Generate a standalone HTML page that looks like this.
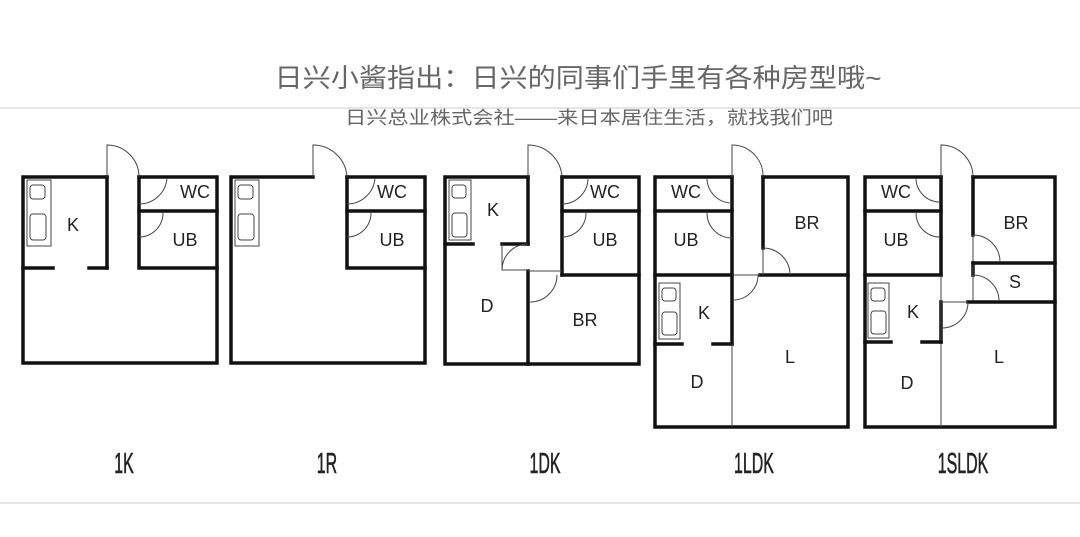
<!DOCTYPE html>
<html><head><meta charset="utf-8"><style>
html,body{margin:0;padding:0;background:#fff;}
svg{display:block}
.w{stroke:#111;stroke-width:3.5;fill:none;stroke-linecap:square}
.t{stroke:#444;stroke-width:1;fill:none}
.l{font-family:"Liberation Sans",Arial,sans-serif;font-size:18px;fill:#222;text-anchor:middle;dominant-baseline:central}
.b{font-family:"Liberation Sans",sans-serif;font-size:29px;fill:#222;text-anchor:middle;stroke:#222;stroke-width:0.6}
</style></head><body>
<svg width="1080" height="537" viewBox="0 0 1080 537" xmlns="http://www.w3.org/2000/svg">
<text x="578" y="87" font-family="'Liberation Sans','Noto Sans CJK SC',sans-serif" font-size="26" fill="#666" text-anchor="middle" textLength="607" lengthAdjust="spacingAndGlyphs">日兴小酱指出：日兴的同事们手里有各种房型哦~</text>
<line x1="0" y1="108" x2="1080" y2="108" stroke="#ddd" stroke-width="1.5"/>
<text x="589" y="124" font-family="'Liberation Sans','Noto Sans CJK SC',sans-serif" font-size="18" fill="#666" text-anchor="middle" textLength="488" lengthAdjust="spacingAndGlyphs">日兴总业株式会社——来日本居住生活，就找我们吧</text>
<line x1="0" y1="503" x2="1080" y2="503" stroke="#ddd" stroke-width="1.5"/>

<!-- 1K -->
<g>
<polyline class="w" points="107,177 23,177 23,363 217,363 217,177 139,177"/>
<line class="w" x1="107" y1="177" x2="107" y2="268"/>
<line class="w" x1="23" y1="268" x2="53" y2="268"/>
<line class="w" x1="89" y1="268" x2="107" y2="268"/>
<polyline class="w" points="139,177 139,268 217,268"/>
<line class="w" x1="139" y1="211" x2="217" y2="211"/>
<path class="t" d="M107,177 V145 A32,32 0 0 1 139,177"/>
<path class="t" d="M139,204 A28,28 0 0 0 167,178"/>
<path class="t" d="M139,237 A24,24 0 0 0 163,213"/>
<rect class="t" x="27" y="180" width="24" height="66"/>
<rect class="t" x="30" y="185" width="15" height="14" rx="3"/>
<rect class="t" x="30" y="214" width="16" height="26" rx="3"/>
<text class="l" x="73" y="225">K</text>
<text class="l" x="195" y="192">WC</text>
<text class="l" x="185" y="240">UB</text>
<text class="b" x="124" y="473" transform="translate(124 0) scale(0.55 1) translate(-124 0)">1K</text>
</g>

<!-- 1R -->
<g>
<polyline class="w" points="313,177 231,177 231,363 425,363 425,177 347,177"/>
<polyline class="w" points="347,177 347,268 425,268"/>
<line class="w" x1="347" y1="211" x2="425" y2="211"/>
<path class="t" d="M313,177 V145 A34,34 0 0 1 347,177"/>
<path class="t" d="M347,204 A28,28 0 0 0 375,178"/>
<path class="t" d="M347,237 A24,24 0 0 0 371,213"/>
<rect class="t" x="235" y="180" width="24" height="66"/>
<rect class="t" x="238" y="185" width="15" height="14" rx="3"/>
<rect class="t" x="238" y="214" width="16" height="26" rx="3"/>
<text class="l" x="392" y="192">WC</text>
<text class="l" x="392" y="240">UB</text>
<text class="b" x="327" y="473" transform="translate(327 0) scale(0.55 1) translate(-327 0)">1R</text>
</g>

<!-- 1DK -->
<g>
<polyline class="w" points="528,177 445,177 445,364 639,364 639,177 562,177"/>
<line class="w" x1="528" y1="177" x2="528" y2="244"/>
<line class="w" x1="528" y1="271" x2="528" y2="364"/>
<line class="w" x1="562" y1="177" x2="562" y2="275"/>
<line class="w" x1="562" y1="275" x2="639" y2="275"/>
<line class="w" x1="562" y1="211" x2="639" y2="211"/>
<line class="w" x1="445" y1="244" x2="473" y2="244"/>
<line class="w" x1="502" y1="244" x2="528" y2="244"/>
<line class="t" x1="528" y1="271" x2="562" y2="271"/>
<path class="t" d="M528,177 V145 A34,34 0 0 1 562,177"/>
<path class="t" d="M562,204 A26,26 0 0 0 588,178"/>
<path class="t" d="M562,237 A24,24 0 0 0 586,213"/>
<path class="t" d="M502,244 V270 H528 M502,270 A26,26 0 0 1 528,244"/>
<path class="t" d="M530,302 A27,27 0 0 0 557,275"/>
<rect class="t" x="449" y="180" width="22" height="60"/>
<rect class="t" x="452" y="185" width="14" height="13" rx="3"/>
<rect class="t" x="452" y="213" width="15" height="24" rx="3"/>
<text class="l" x="493" y="210">K</text>
<text class="l" x="605" y="192">WC</text>
<text class="l" x="605" y="240">UB</text>
<text class="l" x="487" y="306">D</text>
<text class="l" x="585" y="320">BR</text>
<text class="b" x="545" y="473" transform="translate(545 0) scale(0.55 1) translate(-545 0)">1DK</text>
</g>

<!-- 1LDK -->
<g>
<polyline class="w" points="732,177 655,177 655,427 848,427 848,177 763,177"/>
<line class="w" x1="655" y1="211" x2="732" y2="211"/>
<line class="w" x1="655" y1="275" x2="732" y2="275"/>
<line class="w" x1="732" y1="177" x2="732" y2="344"/>
<line class="w" x1="763" y1="177" x2="763" y2="248"/>
<line class="w" x1="760" y1="275" x2="848" y2="275"/>
<line class="w" x1="655" y1="344" x2="682" y2="344"/>
<line class="w" x1="713" y1="344" x2="732" y2="344"/>
<line class="t" x1="732" y1="344" x2="732" y2="427"/>
<line class="t" x1="732" y1="275" x2="760" y2="275"/>
<line class="t" x1="763" y1="248" x2="763" y2="275"/>
<path class="t" d="M732,177 V145 A31,31 0 0 1 763,177"/>
<path class="t" d="M707,178 A25,25 0 0 0 732,203"/>
<path class="t" d="M707,213 A25,25 0 0 0 732,238"/>
<path class="t" d="M763,248 A27,27 0 0 1 790,275"/>
<path class="t" d="M733,300 A25,25 0 0 0 758,275"/>
<rect class="t" x="659" y="283" width="21" height="56"/>
<rect class="t" x="662" y="288" width="14" height="13" rx="3"/>
<rect class="t" x="662" y="312" width="15" height="23" rx="3"/>
<text class="l" x="686" y="192">WC</text>
<text class="l" x="686" y="240">UB</text>
<text class="l" x="807" y="223">BR</text>
<text class="l" x="704" y="313">K</text>
<text class="l" x="790" y="357">L</text>
<text class="l" x="697" y="382">D</text>
<text class="b" x="754" y="473" transform="translate(754 0) scale(0.55 1) translate(-754 0)">1LDK</text>
</g>

<!-- 1SLDK -->
<g>
<polyline class="w" points="941,177 865,177 865,427 1055,427 1055,177 973,177"/>
<line class="w" x1="865" y1="211" x2="941" y2="211"/>
<line class="w" x1="865" y1="275" x2="941" y2="275"/>
<line class="w" x1="941" y1="177" x2="941" y2="275"/>
<line class="w" x1="941" y1="302" x2="941" y2="342"/>
<line class="t" x1="941" y1="275" x2="941" y2="427"/>
<line class="w" x1="973" y1="177" x2="973" y2="235"/>
<line class="w" x1="973" y1="263" x2="973" y2="275"/>
<line class="t" x1="973" y1="235" x2="973" y2="302"/>
<line class="w" x1="973" y1="263" x2="1055" y2="263"/>
<line class="w" x1="968" y1="302" x2="1055" y2="302"/>
<line class="t" x1="941" y1="302" x2="968" y2="302"/>
<line class="w" x1="865" y1="342" x2="891" y2="342"/>
<line class="w" x1="922" y1="342" x2="941" y2="342"/>
<path class="t" d="M941,177 V145 A32,32 0 0 1 973,177"/>
<path class="t" d="M916,178 A24,24 0 0 0 940,202"/>
<path class="t" d="M916,213 A24,24 0 0 0 940,237"/>
<path class="t" d="M973,235 A27,27 0 0 1 1000,262"/>
<path class="t" d="M973,275 A26,26 0 0 1 999,301"/>
<path class="t" d="M942,328 A26,26 0 0 0 968,302"/>
<rect class="t" x="868" y="283" width="21" height="55"/>
<rect class="t" x="871" y="288" width="14" height="13" rx="3"/>
<rect class="t" x="871" y="311" width="15" height="23" rx="3"/>
<text class="l" x="896" y="192">WC</text>
<text class="l" x="896" y="240">UB</text>
<text class="l" x="1016" y="223">BR</text>
<text class="l" x="1015" y="282">S</text>
<text class="l" x="913" y="312">K</text>
<text class="l" x="999" y="357">L</text>
<text class="l" x="907" y="383">D</text>
<text class="b" x="963" y="473" transform="translate(963 0) scale(0.55 1) translate(-963 0)">1SLDK</text>
</g>
</svg>
</body></html>
